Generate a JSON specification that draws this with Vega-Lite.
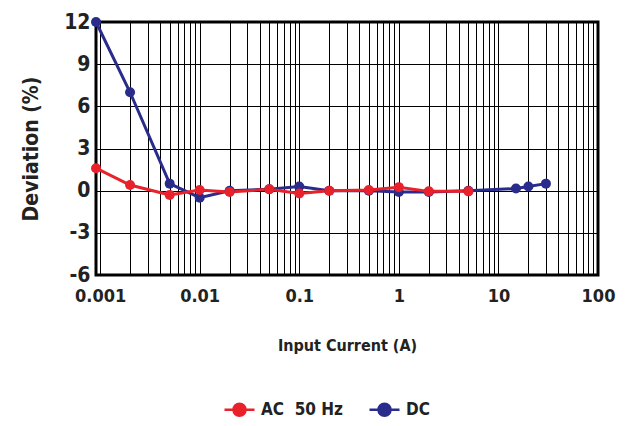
{
  "$schema": "https://vega.github.io/schema/vega-lite/v6.json",
  "width": 502,
  "height": 253,
  "autosize": {"type": "none"},
  "padding": {"left": 96, "top": 22, "right": 29, "bottom": 151},
  "background": "white",
  "config": {
    "view": {"stroke": "black", "strokeWidth": 3},
    "font": "DejaVu Sans Condensed, Roboto, sans-serif"
  },
  "data": {
    "values": [
      {"s": "DC", "x": 0.00091, "y": 12},
      {"s": "DC", "x": 0.002, "y": 7},
      {"s": "DC", "x": 0.005, "y": 0.5},
      {"s": "DC", "x": 0.01, "y": -0.5},
      {"s": "DC", "x": 0.02, "y": 0},
      {"s": "DC", "x": 0.05, "y": 0.1},
      {"s": "DC", "x": 0.1, "y": 0.3},
      {"s": "DC", "x": 0.2, "y": 0},
      {"s": "DC", "x": 0.5, "y": 0},
      {"s": "DC", "x": 1, "y": -0.1},
      {"s": "DC", "x": 2, "y": -0.1},
      {"s": "DC", "x": 5, "y": 0},
      {"s": "DC", "x": 15, "y": 0.15},
      {"s": "DC", "x": 20, "y": 0.3},
      {"s": "DC", "x": 30, "y": 0.5},
      {"s": "AC\u00a0\u00a050 Hz", "x": 0.00091, "y": 1.6},
      {"s": "AC\u00a0\u00a050 Hz", "x": 0.002, "y": 0.4},
      {"s": "AC\u00a0\u00a050 Hz", "x": 0.005, "y": -0.3},
      {"s": "AC\u00a0\u00a050 Hz", "x": 0.01, "y": 0.05},
      {"s": "AC\u00a0\u00a050 Hz", "x": 0.02, "y": -0.1},
      {"s": "AC\u00a0\u00a050 Hz", "x": 0.05, "y": 0.1},
      {"s": "AC\u00a0\u00a050 Hz", "x": 0.1, "y": -0.2},
      {"s": "AC\u00a0\u00a050 Hz", "x": 0.2, "y": 0},
      {"s": "AC\u00a0\u00a050 Hz", "x": 0.5, "y": 0.05},
      {"s": "AC\u00a0\u00a050 Hz", "x": 1, "y": 0.25},
      {"s": "AC\u00a0\u00a050 Hz", "x": 2, "y": -0.05},
      {"s": "AC\u00a0\u00a050 Hz", "x": 5, "y": -0.05}
    ]
  },
  "encoding": {
    "x": {
      "field": "x", "type": "quantitative",
      "scale": {"type": "log", "domain": [0.00091, 100], "nice": false},
      "axis": {
        "title": "Input Current (A)",
        "titleFontSize": 16, "titleFontWeight": "bold",
        "titleColor": "#222", "titlePadding": 32,
        "values": [0.001,0.002,0.003,0.004,0.005,0.006,0.007,0.008,0.009,0.01,0.02,0.03,0.04,0.05,0.06,0.07,0.08,0.09,0.1,0.2,0.3,0.4,0.5,0.6,0.7,0.8,0.9,1,2,3,4,5,6,7,8,9,10,20,30,40,50,60,70,80,90,100],
        "labelExpr": "abs(log(datum.value)/LN10 - round(log(datum.value)/LN10)) < 0.001 ? format(datum.value, '~g') : ''",
        "labelFontSize": 18, "labelFontWeight": "bold", "labelColor": "#222",
        "labelPadding": 12, "labelFlush": false,
        "ticks": false, "domain": false,
        "grid": true, "gridColor": "black", "gridWidth": 1, "gridOpacity": 1
      }
    },
    "y": {
      "field": "y", "type": "quantitative",
      "scale": {"domain": [-6, 12], "nice": false},
      "axis": {
        "title": "Deviation (%)",
        "titleFontSize": 21, "titleFontWeight": "bold",
        "titleColor": "#222", "titlePadding": 22,
        "values": [-6, -3, 0, 3, 6, 9, 12],
        "labelExpr": "'' + datum.value",
        "labelFontSize": 21, "labelFontWeight": "bold", "labelColor": "#222",
        "labelPadding": 6,
        "ticks": false, "domain": false,
        "grid": true, "gridColor": "black", "gridWidth": 1, "gridOpacity": 1
      }
    },
    "color": {
      "field": "s", "type": "nominal",
      "scale": {"domain": ["AC\u00a0\u00a050 Hz", "DC"], "range": ["#e8212b", "#2a2c8c"]},
      "legend": {
        "title": null, "orient": "none", "direction": "horizontal",
        "legendX": 132, "legendY": 376,
        "symbolType": "M-1.5,0H1.5M-0.6,0A0.6,0.6 0 1,0 0.6,0A0.6,0.6 0 1,0 -0.6,0Z",
        "symbolSize": 400, "symbolStrokeWidth": 2.5,
        "labelFontSize": 17, "labelFontWeight": "bold", "labelColor": "#222",
        "columnPadding": 20, "labelOffset": 10,
        "encode": {"symbols": {"update": {"stroke": {"scale": "color", "field": "value"}, "fill": {"scale": "color", "field": "value"}, "strokeWidth": {"value": 2.5}}}}
      }
    }
  },
  "layer": [
    {"mark": {"type": "line", "strokeWidth": 3}, "encoding": {"order": {"field": "x", "type": "quantitative"}}},
    {"mark": {"type": "point", "filled": true, "size": 100, "opacity": 1}}
  ]
}
